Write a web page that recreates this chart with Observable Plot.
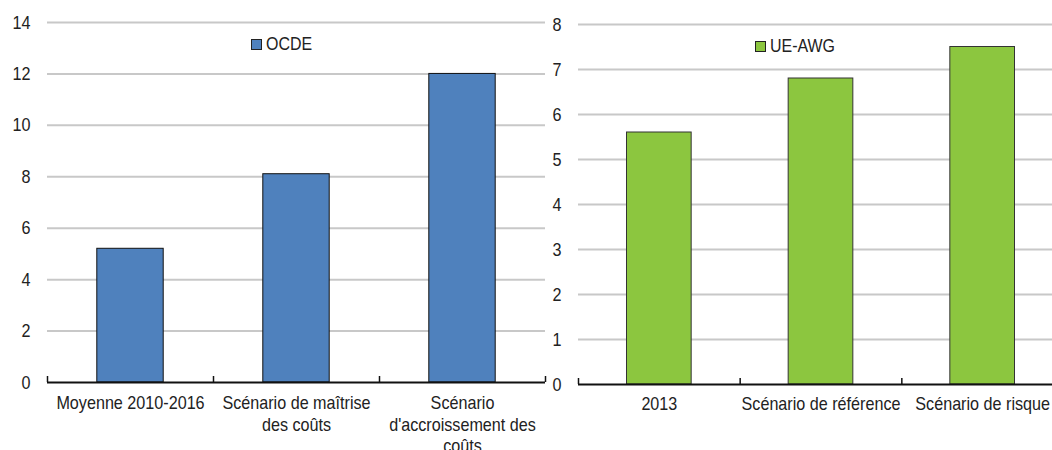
<!DOCTYPE html>
<html>
<head>
<meta charset="utf-8">
<script src="https://cdn.jsdelivr.net/npm/d3@7"></script>
<script src="https://cdn.jsdelivr.net/npm/@observablehq/plot@0.6"></script>
<style>
  html, body { margin: 0; padding: 0; background: #fff; }
  body { width: 1052px; height: 450px; overflow: hidden; position: relative; }
  .panel { position: absolute; top: 0; }
  .legend { position: absolute; display: flex; align-items: center; gap: 4px;
            font: 19px "Liberation Sans", Arial, sans-serif; color: #222; }
  .legend .sw { width: 9px; height: 9px; border: 1px solid #222; }
  .legend .lab { display: inline-block; transform: scaleX(0.84); transform-origin: left center; }
</style>
</head>
<body>
<div id="left" class="panel" style="left:0px"></div>
<div id="right" class="panel" style="left:540px"></div>
<div class="legend" style="left:251px; top:33px"><span class="sw" style="background:#4f81bd"></span><span class="lab">OCDE</span></div>
<div class="legend" style="left:755px; top:35px"><span class="sw" style="background:#8cc63f"></span><span class="lab">UE-AWG</span></div>
<script>
// OCDE projections
const ocdeCategories = ["Moyenne 2010-2016", "Scénario de maîtrise\ndes coûts", "Scénario\nd'accroissement des\ncoûts"];
const ocdeValues = [5.2, 8.1, 12.0];
const ocdeTicks = [0, 2, 4, 6, 8, 10, 12, 14];

// UE-AWG projections
const awgCategories = ["2013", "Scénario de référence", "Scénario de risque"];
const awgValues = [5.6, 6.8, 7.5];
const awgTicks = [0, 1, 2, 3, 4, 5, 6, 7, 8];

const FONT = '"Liberation Sans", Arial, sans-serif';
const NARROW = 0.85; // condensed look for all labels

function panel({categories, values, ticks, fill, stroke, width, marginLeft, marginRight, marginTop, marginBottom, labelDy}) {
  const rows = categories.map((c, i) => ({i, label: c, value: values[i]}));
  const n = categories.length;
  const bounds = d3.range(n + 1);
  return Plot.plot({
    width, height: 450, marginLeft, marginRight, marginTop, marginBottom,
    style: {fontFamily: FONT, fontSize: "19px", color: "#222", background: "none", maxWidth: "none", overflow: "visible"},
    x: {domain: [0, n], axis: null},
    y: {domain: [0, d3.max(ticks)], axis: null},
    marks: [
      Plot.ruleY(ticks.filter(t => t > 0), {stroke: "#c8c8c8", strokeWidth: 2}),
      Plot.axisY({ticks, tickSize: 0, tickPadding: 17, fill: "#222", label: null}),
      Plot.rectY(rows, {x1: d => d.i + 0.3, x2: d => d.i + 0.7, y: "value", fill, stroke, strokeWidth: 1}),
      Plot.ruleY([0], {stroke: "#111", strokeWidth: 2}),
      Plot.ruleX(bounds, {y1: 0, y2: 0, insetTop: -6, stroke: "#111", strokeWidth: 1.5}),
      Plot.text(rows, {x: d => d.i + 0.5, frameAnchor: "bottom", text: "label", lineAnchor: "top",
                       lineHeight: 1.14, dy: labelDy, fill: "#222"})
    ]
  });
}

// Squeeze each text run horizontally to get a narrow face
function condense(svg) {
  svg.querySelectorAll("text").forEach(t => {
    const spans = t.querySelectorAll("tspan");
    const runs = spans.length ? Array.from(spans) : [t];
    runs.forEach(r => {
      const len = r.getComputedTextLength();
      r.setAttribute("textLength", (len * NARROW).toFixed(1));
      r.setAttribute("lengthAdjust", "spacingAndGlyphs");
    });
  });
}

const left = panel({
  categories: ocdeCategories, values: ocdeValues, ticks: ocdeTicks,
  fill: "#4f81bd", stroke: "#111",
  width: 560, marginLeft: 47, marginRight: 15, marginTop: 22, marginBottom: 68, labelDy: 11
});
document.getElementById("left").append(left);
condense(left);

const right = panel({
  categories: awgCategories, values: awgValues, ticks: awgTicks,
  fill: "#8cc63f", stroke: "#333",
  width: 523, marginLeft: 38, marginRight: 0, marginTop: 24, marginBottom: 66, labelDy: 10
});
document.getElementById("right").append(right);
condense(right);
</script>
</body>
</html>
